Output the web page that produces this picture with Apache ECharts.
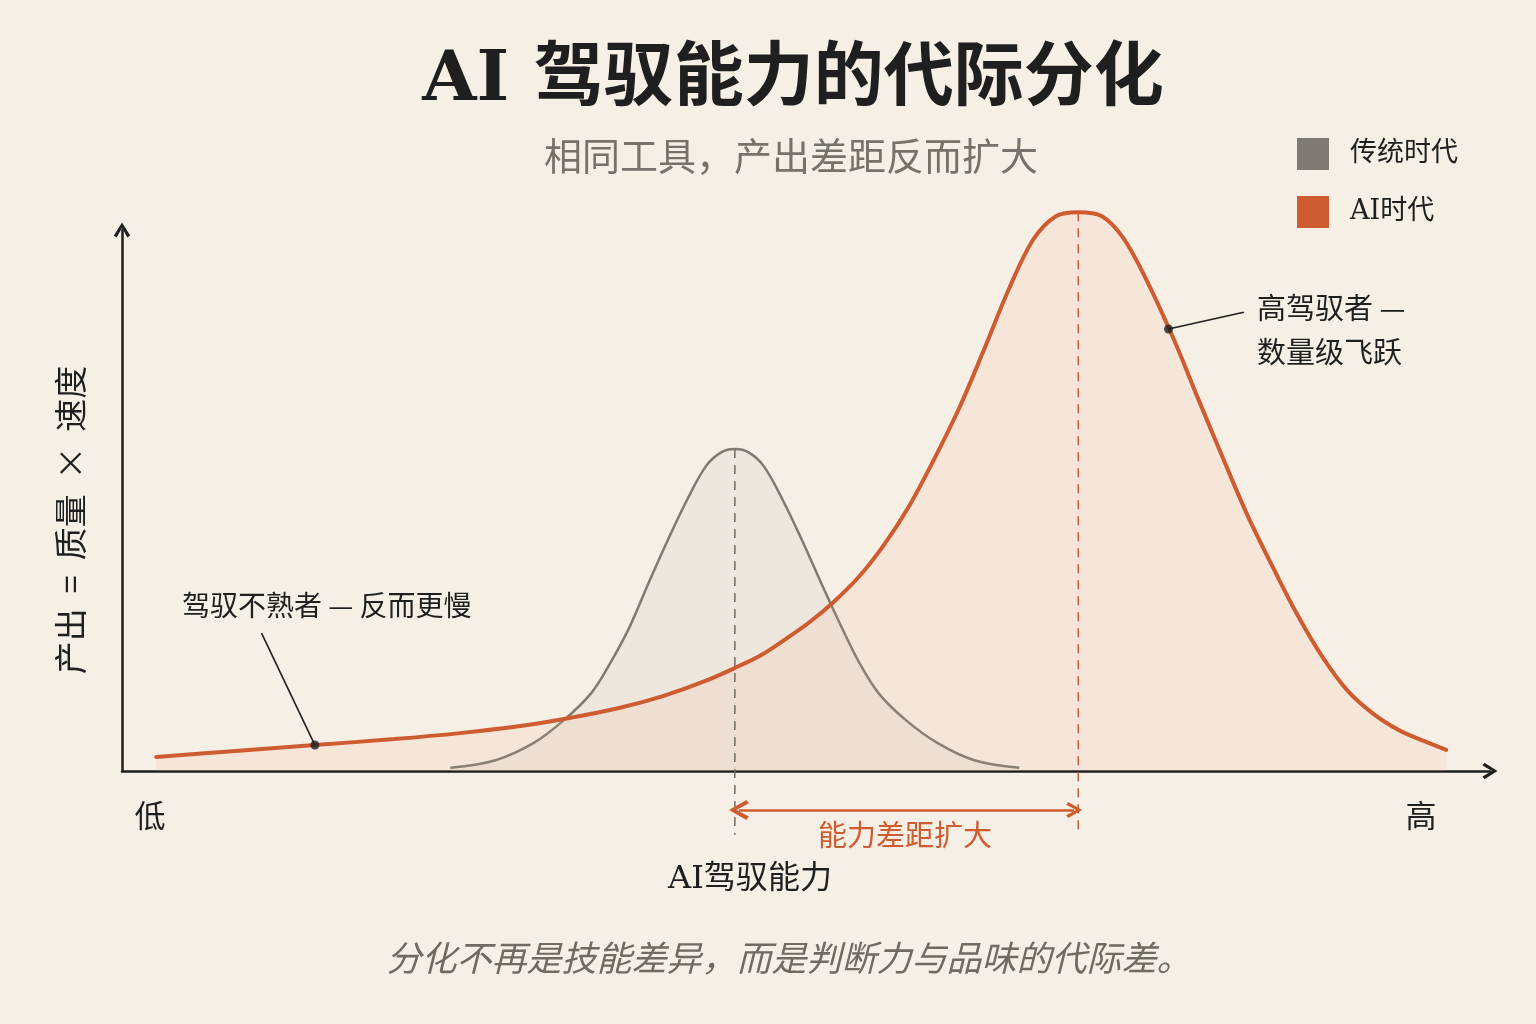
<!DOCTYPE html>
<html>
<head>
<meta charset="utf-8">
<script src="https://cdn.jsdelivr.net/npm/echarts@6/dist/echarts.min.js"></script>
<style>
  html, body { margin: 0; padding: 0; background: #f6efe5; }
  #chart { width: 1536px; height: 1024px; }
</style>
</head>
<body>
<div id="chart"></div>
<script>
// curve values (x: AI驾驭能力 0-100, y: 产出 0-100)
const grayX = [24.0, 27.3, 30.1, 32.3, 34.3, 35.7, 37.1, 38.5, 39.9, 41.3, 42.7, 43.8, 44.8, 45.8, 46.9, 48.3, 49.7, 51.1, 52.6, 53.9, 55.3, 57.3, 59.6, 62.3, 65.6]
const grayY = [0.6, 2.0, 5.2, 9.4, 14.4, 20.0, 26.6, 34.8, 42.7, 50.1, 56.4, 58.9, 59.5, 58.9, 56.4, 50.1, 42.7, 34.8, 26.6, 20.0, 14.4, 9.4, 5.2, 2.0, 0.6]

const aiX = [2.5, 8.3, 14.1, 19.9, 24.7, 29.1, 32.7, 36.4, 39.6, 42.6, 45.1, 46.7, 48.4, 50.2, 52.0, 53.9, 55.7, 57.5, 59.3, 61.2, 63.0, 64.8, 66.6, 68.3, 69.9, 71.6, 73.2, 75.0, 76.9, 78.7, 80.5, 82.3, 84.2, 86.0, 87.8, 89.6, 91.5, 93.3, 95.1, 96.8]
const aiY = [2.6, 3.7, 4.8, 5.9, 7.0, 8.3, 9.8, 11.7, 13.9, 16.6, 19.4, 21.4, 24.2, 27.4, 31.2, 36.0, 41.8, 48.8, 57.3, 67.1, 77.8, 88.9, 98.2, 102.6, 103.3, 102.6, 98.5, 90.2, 79.7, 68.6, 57.7, 47.1, 37.3, 28.5, 20.9, 14.8, 10.5, 7.6, 5.6, 3.9]

const seriesNames = ['传统时代', 'AI时代']
const grayPeak = [44.8, 59.5]
const aiPeak = [69.9, 103.3]
const slowPoint = [14.1, 4.8]
const slowLabelEnd = [10.2, 25.5]
const highPoint = [76.5, 81.7]
const highLabelEnd = [82.0, 84.8]
const gapArrowY = -7.2
const guideBottom = -11.8

const GRAY = '#7f7b74'
const ORANGE = '#cf5c30'
const INK = '#1f1f1f'
const SANS = "'Noto Sans CJK SC', 'Noto Sans', sans-serif"
const SERIF = "'DejaVu Serif', 'Liberation Serif', 'Noto Sans CJK SC', serif"
const chevron = 'path://M5,0 L10,8 L8.3,9.2 L5,3.4 L1.7,9.2 L0,8 Z'

const pairs = (xs, ys) => xs.map((x, i) => [x, ys[i]])

const chart = echarts.init(document.getElementById('chart'))

chart.setOption({
  backgroundColor: '#f6efe5',
  animation: false,
  grid: { left: 122, right: 46, top: 230, bottom: 253 },
  legend: {
    data: seriesNames,
    orient: 'vertical',
    left: 1292,
    top: 133,
    icon: 'rect',
    itemWidth: 32,
    itemHeight: 32,
    itemGap: 26,
    textStyle: { fontSize: 27, color: INK, fontFamily: SERIF, padding: [0, 0, 0, 16] }
  },
  xAxis: {
    type: 'value',
    min: 0,
    max: 100,
    axisLine: {
      lineStyle: { color: INK, width: 2.5 },
      symbol: ['none', chevron],
      symbolSize: [18, 15]
    },
    axisTick: { show: false },
    axisLabel: { show: false },
    splitLine: { show: false }
  },
  yAxis: {
    type: 'value',
    min: 0,
    max: 100,
    axisLine: {
      show: true,
      lineStyle: { color: INK, width: 2.5 },
      symbol: ['none', chevron],
      symbolSize: [18, 15]
    },
    axisTick: { show: false },
    axisLabel: { show: false },
    splitLine: { show: false }
  },
  series: [
    {
      name: seriesNames[0],
      type: 'line',
      data: pairs(grayX, grayY),
      smooth: 0.35,
      symbol: 'none',
      clip: false,
      itemStyle: { color: GRAY },
      lineStyle: { color: GRAY, width: 2.5 },
      areaStyle: { color: 'rgba(205, 198, 192, 0.25)' },
      z: 2
    },
    {
      name: seriesNames[1],
      type: 'line',
      data: pairs(aiX, aiY),
      smooth: 0.35,
      symbol: 'none',
      clip: false,
      itemStyle: { color: ORANGE },
      lineStyle: { color: ORANGE, width: 4, cap: 'round' },
      areaStyle: { color: 'rgba(240, 165, 125, 0.16)' },
      z: 3
    },
    {
      name: 'gray-guide',
      type: 'line',
      data: [grayPeak, [grayPeak[0], guideBottom]],
      symbol: 'none',
      clip: false,
      lineStyle: { color: '#6f6b65', width: 1.5, type: [9, 7] },
      z: 4
    },
    {
      name: 'ai-guide',
      type: 'line',
      data: [aiPeak, [aiPeak[0], guideBottom]],
      symbol: 'none',
      clip: false,
      lineStyle: { color: ORANGE, width: 1.5, type: [9, 7] },
      z: 4
    },
    {
      name: 'gap-arrow',
      type: 'lines',
      coordinateSystem: 'cartesian2d',
      clip: false,
      symbol: [chevron, chevron],
      symbolSize: [20, 16],
      lineStyle: { color: ORANGE, width: 2.5, opacity: 1 },
      data: [{ coords: [[grayPeak[0] + 0.3, gapArrowY], [aiPeak[0] - 0.3, gapArrowY]] }],
      z: 5
    },
    {
      name: 'leaders',
      type: 'lines',
      coordinateSystem: 'cartesian2d',
      clip: false,
      lineStyle: { color: INK, width: 1.6, opacity: 1 },
      data: [
        { coords: [slowPoint, slowLabelEnd] },
        { coords: [highPoint, highLabelEnd] }
      ],
      z: 5
    },
    {
      name: 'dots',
      type: 'scatter',
      data: [slowPoint, highPoint],
      symbolSize: 9,
      itemStyle: { color: INK },
      z: 6
    }
  ],
  graphic: [
    {
      type: 'text', x: 793, y: 82,
      style: { text: 'AI 驾驭能力的代际分化', font: 'bold 70px ' + SERIF, fill: INK, align: 'center', verticalAlign: 'middle', textAlign: 'center', textVerticalAlign: 'middle' }
    },
    {
      type: 'text', x: 791, y: 156,
      style: { text: '相同工具，产出差距反而扩大', font: '38px ' + SANS, fill: '#76726b', align: 'center', verticalAlign: 'middle', textAlign: 'center', textVerticalAlign: 'middle' }
    },
    {
      type: 'text', x: 70, y: 520, rotation: Math.PI / 2,
      style: { text: '产出  =  质量  ×  速度', font: '33px ' + SANS, fill: INK, align: 'center', verticalAlign: 'middle', textAlign: 'center', textVerticalAlign: 'middle' }
    },
    {
      type: 'text', x: 150, y: 815,
      style: { text: '低', font: '31px ' + SANS, fill: INK, align: 'center', verticalAlign: 'middle', textAlign: 'center', textVerticalAlign: 'middle' }
    },
    {
      type: 'text', x: 1421, y: 815,
      style: { text: '高', font: '31px ' + SANS, fill: INK, align: 'center', verticalAlign: 'middle', textAlign: 'center', textVerticalAlign: 'middle' }
    },
    {
      type: 'text', x: 750, y: 880,
      style: { text: 'AI驾驭能力', font: '32px ' + SERIF, fill: INK, align: 'center', verticalAlign: 'middle', textAlign: 'center', textVerticalAlign: 'middle' }
    },
    {
      type: 'text', x: 905, y: 835,
      style: { text: '能力差距扩大', font: '29px ' + SANS, fill: ORANGE, align: 'center', verticalAlign: 'middle', textAlign: 'center', textVerticalAlign: 'middle' }
    },
    {
      type: 'text', x: 182, y: 605,
      style: { text: '驾驭不熟者 — 反而更慢', font: '28px ' + SANS, fill: INK, align: 'left', verticalAlign: 'middle', textAlign: 'left', textVerticalAlign: 'middle' }
    },
    {
      type: 'text', x: 1257, y: 308,
      style: { text: '高驾驭者 —', font: '29px ' + SANS, fill: INK, align: 'left', verticalAlign: 'middle', textAlign: 'left', textVerticalAlign: 'middle' }
    },
    {
      type: 'text', x: 1257, y: 352,
      style: { text: '数量级飞跃', font: '29px ' + SANS, fill: INK, align: 'left', verticalAlign: 'middle', textAlign: 'left', textVerticalAlign: 'middle' }
    },
    {
      type: 'text', x: 789, y: 958,
      style: { text: '分化不再是技能差异，而是判断力与品味的代际差。', font: 'italic 35px ' + SANS, fill: '#6f6a62', align: 'center', verticalAlign: 'middle', textAlign: 'center', textVerticalAlign: 'middle' }
    }
  ]
})
</script>
</body>
</html>
